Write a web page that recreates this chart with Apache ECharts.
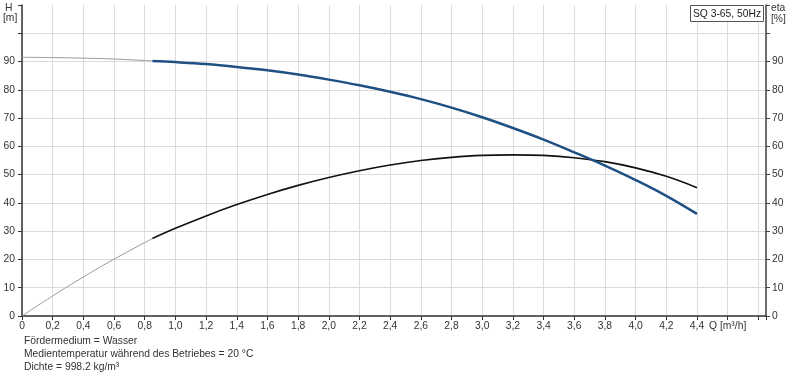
<!DOCTYPE html>
<html>
<head>
<meta charset="utf-8">
<script src="https://cdn.jsdelivr.net/npm/echarts@6/dist/echarts.min.js"></script>
<style>
html,body{margin:0;padding:0;background:#fff;}
#chart{width:796px;height:374px;}
</style>
</head>
<body>
<div id="chart"></div>
<script>
// Data
var qExt   = [0, 0.2, 0.4, 0.6, 0.85];
var hExt   = [91.5, 91.4, 91.2, 90.9, 90.2];
var etaExt = [0, 7.1, 13.8, 20.1, 27.4];

var qMain   = [0.85, 1.0, 1.2, 1.4, 1.6, 1.8, 2.0, 2.2, 2.4, 2.6, 2.8, 3.0, 3.2, 3.4, 3.6, 3.8, 4.0, 4.2, 4.4];
var hMain   = [90.2, 89.8, 89.1, 88.1, 86.9, 85.4, 83.6, 81.6, 79.3, 76.7, 73.7, 70.3, 66.5, 62.4, 57.9, 53.2, 48.1, 42.5, 36.1];
var etaMain = [27.4, 31.0, 35.4, 39.4, 43.0, 46.2, 49.0, 51.4, 53.4, 55.0, 56.1, 56.8, 57.0, 56.8, 56.0, 54.6, 52.4, 49.4, 45.4];

var yTicks = [0, 10, 20, 30, 40, 50, 60, 70, 80, 90];
var titleText = 'SQ 3-65, 50Hz';
var footerLines = ['Fördermedium = Wasser', 'Medientemperatur während des Betriebes = 20 °C', 'Dichte = 998.2 kg/m³'];

function zip(a, b) { return a.map(function (v, i) { return [v, b[i]]; }); }

var FONT = '"Liberation Sans", Arial, sans-serif';
var FS = 10.3;
var chart = echarts.init(document.getElementById('chart'), null, {renderer: 'canvas'});

var gridColors = [];
for (var i = 0; i < 12; i++) gridColors.push(i === 11 ? 'rgba(0,0,0,0)' : '#dcdcdc');

function yLabel(v) { return yTicks.indexOf(v) >= 0 ? String(v) : ''; }

var option = {
  animation: false,
  backgroundColor: '#fff',
  grid: {left: 22, right: 30, top: 5, bottom: 58, containLabel: false},
  xAxis: {
    type: 'value', min: 0, max: 4.85, interval: 0.2,
    axisLine: {show: true, onZero: false, lineStyle: {color: '#333', width: 1.5}},
    axisTick: {show: true, inside: false, length: 4, lineStyle: {color: '#333'}},
    axisLabel: {
      color: '#333', fontSize: FS, fontFamily: FONT, margin: 5,
      showMaxLabel: true,
      formatter: function (v) {
        if (Math.abs(v - 4.6) < 1e-6) return 'Q [m³/h]';
        if (v > 4.7) return '';
        if (v === 0) return '0';
        return v.toFixed(1).replace('.', ',');
      }
    },
    splitLine: {show: true, lineStyle: {color: '#dcdcdc', width: 1}}
  },
  yAxis: [
    {
      type: 'value', min: 0, max: 110, interval: 10, position: 'left',
      axisLine: {show: true, lineStyle: {color: '#333', width: 1.5}},
      axisTick: {show: true, inside: false, length: 4, lineStyle: {color: '#333'}},
      axisLabel: {color: '#333', fontSize: FS, fontFamily: FONT, margin: 7, formatter: yLabel},
      splitLine: {show: true, lineStyle: {color: gridColors, width: 1}}
    },
    {
      type: 'value', min: 0, max: 110, interval: 10, position: 'right',
      axisLine: {show: true, lineStyle: {color: '#444', width: 1.5}},
      axisTick: {show: true, inside: false, length: 4, lineStyle: {color: '#444'}},
      axisLabel: {color: '#333', fontSize: FS, fontFamily: FONT, margin: 6, formatter: yLabel},
      splitLine: {show: false}
    }
  ],
  series: [
    {type: 'line', name: 'H ext', yAxisIndex: 0, data: zip(qExt, hExt), smooth: 0.4,
     showSymbol: false, symbol: 'none', lineStyle: {color: '#9a9a9a', width: 1}, z: 3},
    {type: 'line', name: 'eta ext', yAxisIndex: 1, data: zip(qExt, etaExt), smooth: 0.4,
     showSymbol: false, symbol: 'none', lineStyle: {color: '#9a9a9a', width: 1}, z: 3},
    {type: 'line', name: 'eta', yAxisIndex: 1, data: zip(qMain, etaMain), smooth: 0.4,
     showSymbol: false, symbol: 'none', lineStyle: {color: '#111111', width: 1.6}, z: 4},
    {type: 'line', name: 'H', yAxisIndex: 0, data: zip(qMain, hMain), smooth: 0.4,
     showSymbol: false, symbol: 'none', lineStyle: {color: '#1f5084', width: 2.5}, z: 5}
  ],
  graphic: [
    {type: 'text', left: 5, top: 3, style: {text: 'H', fontSize: FS, fontFamily: FONT, fill: '#333'}},
    {type: 'text', left: 3, top: 13, style: {text: '[m]', fontSize: FS, fontFamily: FONT, fill: '#333'}},
    {type: 'text', left: 771, top: 3, style: {text: 'eta', fontSize: FS, fontFamily: FONT, fill: '#333'}},
    {type: 'text', left: 771, top: 14, style: {text: '[%]', fontSize: FS, fontFamily: FONT, fill: '#333'}},
    {type: 'rect', shape: {x: 690.5, y: 5.5, width: 73, height: 16}, style: {fill: '#fff', stroke: '#555', lineWidth: 1}, z: 10},
    {type: 'text', x: 727, y: 14, z: 11, style: {text: titleText, fontSize: FS, fontFamily: FONT, fill: '#222', align: 'center', verticalAlign: 'middle'}},
    {type: 'text', x: 24, y: 341, style: {text: footerLines[0], fontSize: FS, fontFamily: FONT, fill: '#333', verticalAlign: 'middle'}},
    {type: 'text', x: 24, y: 354.5, style: {text: footerLines[1], fontSize: FS, fontFamily: FONT, fill: '#333', verticalAlign: 'middle'}},
    {type: 'text', x: 24, y: 367.5, style: {text: footerLines[2], fontSize: FS, fontFamily: FONT, fill: '#333', verticalAlign: 'middle'}}
  ]
};
chart.setOption(option);
</script>
</body>
</html>
